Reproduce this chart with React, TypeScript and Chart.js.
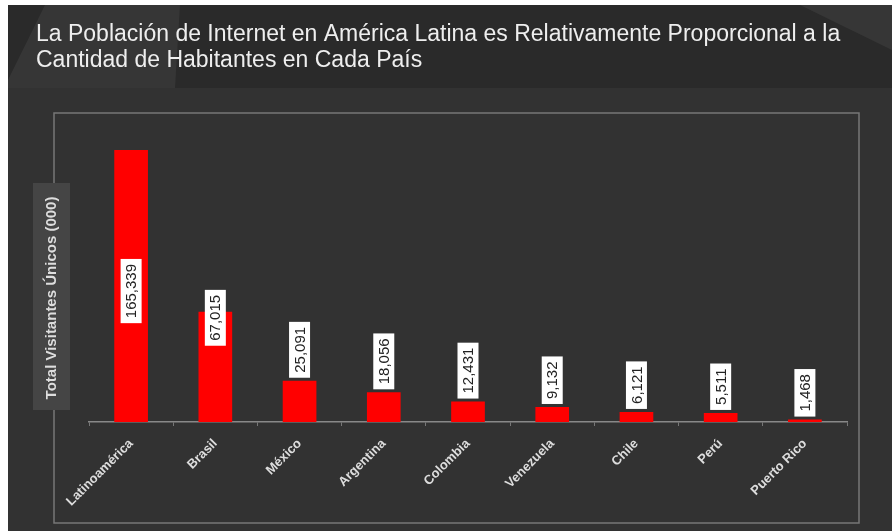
import React, { useEffect, useRef } from 'react';
import { Chart, registerables } from 'chart.js';

Chart.register(...registerables);

const categories = ['Latinoamérica', 'Brasil', 'México', 'Argentina', 'Colombia', 'Venezuela', 'Chile', 'Perú', 'Puerto Rico'];
const visitors = [165339, 67015, 25091, 18056, 12431, 9132, 6121, 5511, 1468];
const labelModes = ['center', 'straddle', 'outside', 'outside', 'outside', 'outside', 'outside', 'outside', 'outside'];
const titleLines = [
  'La Población de Internet en América Latina es Relativamente Proporcional a la',
  'Cantidad de Habitantes en Cada País',
];
const yTitle = 'Total Visitantes Únicos (000)';
const yMax = 180000;

const FONT = '"Liberation Sans", Arial, sans-serif';

const bgPlugin = {
  id: 'bgDecor',
  beforeDraw(chart: any) {
    const { ctx, width, height } = chart;
    ctx.save();
    ctx.fillStyle = '#323232';
    ctx.fillRect(0, 0, width, height);
    ctx.fillStyle = '#2a2a2a';
    ctx.fillRect(0, 0, width, 83);
    ctx.fillStyle = 'rgba(255,255,255,0.06)';
    ctx.beginPath();
    ctx.moveTo(37, 0);
    ctx.lineTo(172, 0);
    ctx.lineTo(167, 83);
    ctx.lineTo(0, 83);
    ctx.lineTo(0, 75);
    ctx.closePath();
    ctx.fill();
    ctx.beginPath();
    ctx.moveTo(792, 0);
    ctx.lineTo(width, 0);
    ctx.lineTo(width, 45);
    ctx.closePath();
    ctx.fill();
    // title
    ctx.fillStyle = '#eeeeee';
    ctx.font = `23px ${FONT}`;
    ctx.textAlign = 'left';
    ctx.textBaseline = 'alphabetic';
    titleLines.forEach((t, i) => ctx.fillText(t, 28, 36 + i * 26));
    // outer frame
    ctx.strokeStyle = '#777777';
    ctx.lineWidth = 1.5;
    ctx.strokeRect(46, 108, 805, 410);
    // y title box
    ctx.fillStyle = '#454545';
    ctx.fillRect(25, 178, 37, 227);
    ctx.translate(44, 293);
    ctx.rotate(-Math.PI / 2);
    ctx.fillStyle = '#dddddd';
    ctx.font = `bold 15px ${FONT}`;
    ctx.textAlign = 'center';
    ctx.textBaseline = 'middle';
    ctx.fillText(yTitle, 0, 0);
    ctx.restore();
  },
};

const valuePlugin = {
  id: 'valueLabels',
  afterDatasetsDraw(chart: any) {
    const { ctx } = chart;
    const meta = chart.getDatasetMeta(0);
    ctx.save();
    ctx.font = `15px ${FONT}`;
    meta.data.forEach((bar: any, i: number) => {
      const { x, y, base } = bar.getProps(['x', 'y', 'base'], true);
      const txt = visitors[i].toLocaleString('en-US');
      const tw = ctx.measureText(txt).width;
      const bh = tw + 10;
      const bw = 21;
      let cy: number;
      const mode = labelModes[i];
      if (mode === 'center') cy = (y + base) / 2 + 5;
      else if (mode === 'straddle') cy = y + 6;
      else cy = y - 3 - bh / 2;
      ctx.fillStyle = '#ffffff';
      ctx.fillRect(x - bw / 2, cy - bh / 2, bw, bh);
      ctx.save();
      ctx.translate(x, cy);
      ctx.rotate(-Math.PI / 2);
      ctx.fillStyle = '#222222';
      ctx.textAlign = 'center';
      ctx.textBaseline = 'middle';
      ctx.fillText(txt, 0, 1);
      ctx.restore();
    });
    ctx.restore();
  },
};

export default function App() {
  const ref = useRef<HTMLCanvasElement>(null);
  useEffect(() => {
    if (!ref.current) return;
    const chart = new Chart(ref.current, {
      type: 'bar',
      data: {
        labels: categories,
        datasets: [
          {
            data: visitors,
            backgroundColor: '#ff0000',
            barPercentage: 0.4,
            categoryPercentage: 1,
          },
        ],
      },
      options: {
        animation: false,
        responsive: false,
        layout: { padding: { left: 81, right: 45, top: 121, bottom: 9 } },
        plugins: {
          legend: { display: false },
          tooltip: { enabled: false },
          title: { display: false },
        },
        scales: {
          x: {
            grid: { display: true, drawOnChartArea: false, drawTicks: true, tickLength: 4, color: '#777777', offset: true },
            border: { display: true, color: '#888888', width: 1.5 },
            ticks: {
              color: '#dddddd',
              font: { family: FONT, size: 13, weight: 'bold' },
              minRotation: 45,
              maxRotation: 45,
              autoSkip: false,
              padding: 10,
            },
            afterFit(scale: any) {
              scale.height = 100;
            },
          },
          y: { display: false, min: 0, max: yMax },
        },
      },
      plugins: [bgPlugin, valuePlugin],
    } as any);
    return () => chart.destroy();
  }, []);
  return (
    <div style={{ position: 'absolute', left: 8, top: 5, width: 884, height: 526 }}>
      <canvas ref={ref} width={884} height={526} style={{ display: 'block' }} />
    </div>
  );
}
